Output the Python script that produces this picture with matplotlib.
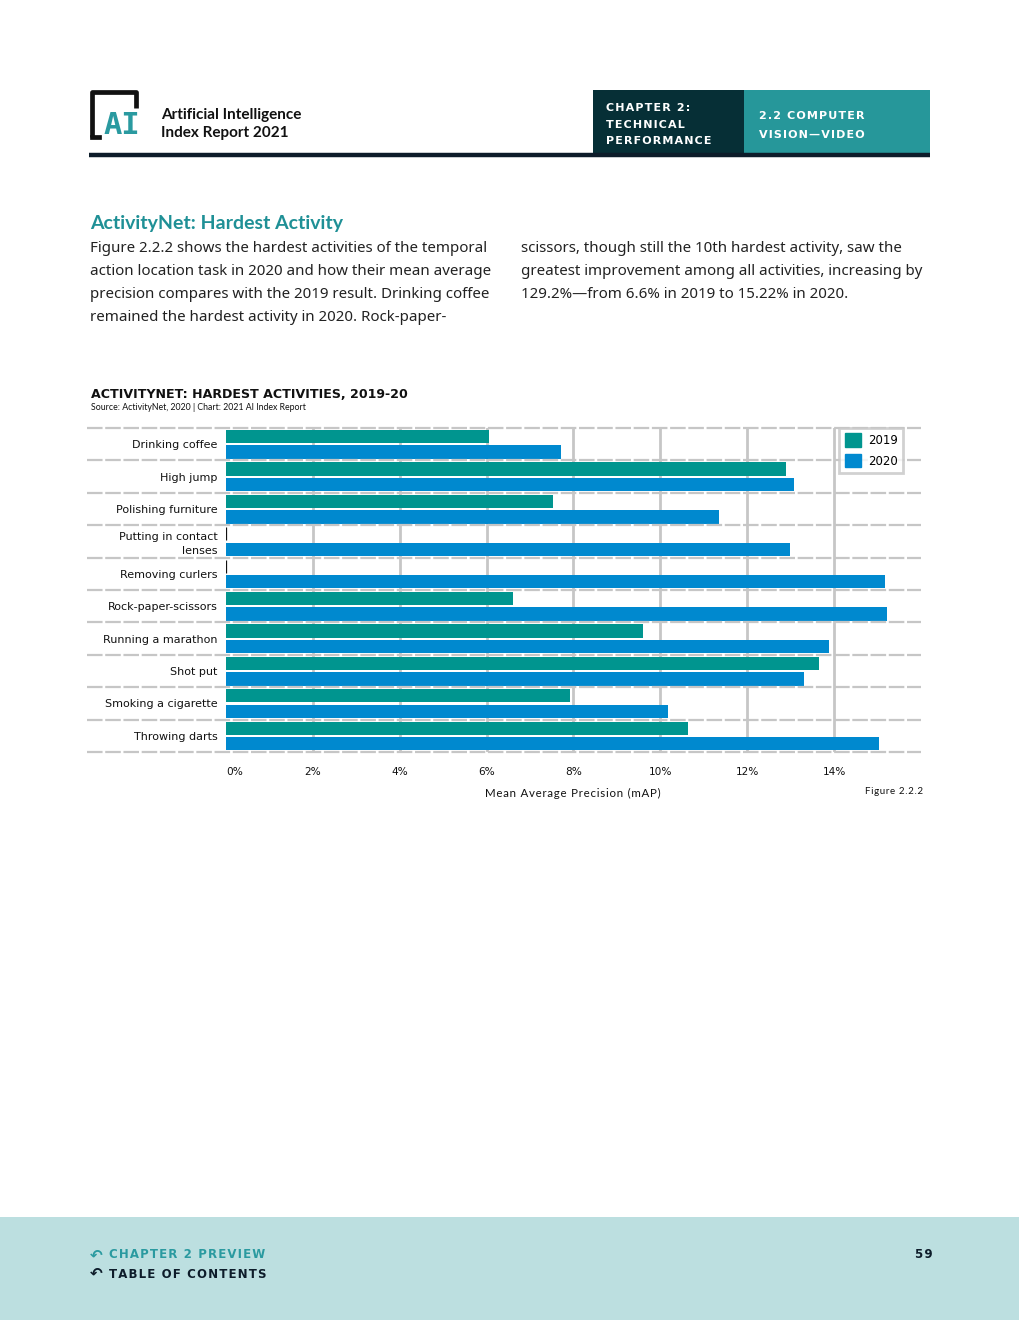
import numpy as np
import matplotlib.pyplot as plt
from matplotlib.patches import Rectangle, Patch
from matplotlib.transforms import blended_transform_factory

W, H = 1020, 1320

activities = [
    "Drinking coffee",
    "High jump",
    "Polishing furniture",
    "Putting in contact\nlenses",
    "Removing curlers",
    "Rock-paper-scissors",
    "Running a marathon",
    "Shot put",
    "Smoking a cigarette",
    "Throwing darts",
]
map_2019 = [6.05, 12.90, 7.52, 0.0, 0.0, 6.60, 9.59, 13.66, 7.91, 10.64]
map_2020 = [7.72, 13.08, 11.36, 12.99, 15.17, 15.22, 13.89, 13.31, 10.18, 15.03]
x_ticks = [0, 2, 4, 6, 8, 10, 12, 14]
x_labels = ["0%", "2%", "4%", "6%", "8%", "10%", "12%", "14%"]

TEAL = "#00958f"
BLUE = "#0089cf"
GRID = "#c6c6c6"
DARK = "#111111"

plt.rcParams["font.family"] = ["Lato", "DejaVu Sans"]


def px(x, y):
    return x / W, 1 - y / H


def spaced(s):
    return "\u200a".join(s)


fig = plt.figure(figsize=(W / 100, H / 100), dpi=100)
fig.patch.set_facecolor("white")

# ---------- page furniture ----------
hdr = fig.add_axes((0, 0, 1, 1))
hdr.set_xlim(0, W)
hdr.set_ylim(H, 0)
hdr.axis("off")

# logo
hdr.plot([92, 92, 136, 136], [137, 92, 92, 108], color=DARK, lw=3.4, solid_capstyle="butt")
hdr.plot([92, 99], [137, 137], color=DARK, lw=3.4)
hdr.text(122, 126, "AI", ha="center", va="center", fontsize=22, fontweight="bold",
         color="#2a9aa0", family=["DejaVu Sans Mono"])
hdr.text(161, 115, "Artificial Intelligence", ha="left", va="center", fontsize=11,
         fontweight="bold", color=DARK)
hdr.text(161, 133, "Index Report 2021", ha="left", va="center", fontsize=11,
         fontweight="bold", color=DARK)

hdr.add_patch(Rectangle((593, 90), 151, 64, color="#062f36", lw=0))
hdr.add_patch(Rectangle((744, 90), 186, 64, color="#26979a", lw=0))
for i, t in enumerate(["CHAPTER 2:", "TECHNICAL", "PERFORMANCE"]):
    hdr.text(606, 108 + i * 16.5, spaced(t), ha="left", va="center", fontsize=8,
             fontweight="bold", color="white", family=["DejaVu Sans"])
for i, t in enumerate(["2.2 COMPUTER", "VISION\u2014VIDEO"]):
    hdr.text(759, 116 + i * 19, spaced(t), ha="left", va="center", fontsize=8,
             fontweight="bold", color="white", family=["DejaVu Sans"])
hdr.plot([89, 930], [155, 155], color="#0d1c2a", lw=3.2, solid_capstyle="butt")

# intro text
hdr.text(90, 223, "ActivityNet: Hardest Activity", ha="left", va="center", fontsize=14,
         fontweight="bold", color="#1f9096")
left_col = [
    "Figure 2.2.2 shows the hardest activities of the temporal",
    "action location task in 2020 and how their mean average",
    "precision compares with the 2019 result. Drinking coffee",
    "remained the hardest activity in 2020. Rock-paper-",
]
right_col = [
    "scissors, though still the 10th hardest activity, saw the",
    "greatest improvement among all activities, increasing by",
    "129.2%\u2014from 6.6% in 2019 to 15.22% in 2020.",
]
for i, t in enumerate(left_col):
    hdr.text(90, 248 + i * 23.3, t, ha="left", va="center", fontsize=10.85,
             color="#222222", family=["Noto Sans", "DejaVu Sans"])
for i, t in enumerate(right_col):
    hdr.text(521, 248 + i * 23.3, t, ha="left", va="center", fontsize=10.85,
             color="#222222", family=["Noto Sans", "DejaVu Sans"])

hdr.text(91, 394, "ACTIVITYNET: HARDEST ACTIVITIES, 2019-20", ha="left", va="center",
         fontsize=9.1, fontweight="bold", color=DARK, family=["DejaVu Sans"])
hdr.text(91, 408, "Source: ActivityNet, 2020 | Chart: 2021 AI Index Report", ha="left",
         va="center", fontsize=6.3, color=DARK)
hdr.text(573, 793, spaced("Mean Average Precision (mAP)"), ha="center", va="center",
         fontsize=8.3, color=DARK)
hdr.text(923, 791, spaced("Figure 2.2.2"), ha="right", va="center", fontsize=7, color=DARK)

# footer
hdr.add_patch(Rectangle((0, 1217), W, H - 1217, color="#bcdfe0", lw=0))
hdr.text(90, 1255, "\u21b6", ha="left", va="center", fontsize=11, color="#2a9aa0",
         fontweight="bold", family=["DejaVu Sans"])
hdr.text(90, 1273, "\u21b6", ha="left", va="center", fontsize=11, color="#0d1c2a",
         fontweight="bold", family=["DejaVu Sans"])
hdr.text(109, 1255, spaced("CHAPTER 2 PREVIEW"), ha="left", va="center", fontsize=8.5,
         fontweight="bold", color="#2a9aa0", family=["DejaVu Sans"])
hdr.text(109, 1275, spaced("TABLE OF CONTENTS"), ha="left", va="center", fontsize=8.5,
         fontweight="bold", color="#0d1c2a", family=["DejaVu Sans"])
hdr.text(933, 1255, spaced("59"), ha="right", va="center", fontsize=8.5,
         fontweight="bold", color="#0d1c2a", family=["DejaVu Sans"])

# ---------- chart ----------
l, b = px(226, 752)
ax = fig.add_axes((l, b, 695 / W, 324 / H))
y = np.arange(len(activities))
h = 0.41
edges = [DARK if v == 0 else "none" for v in map_2019]
ax.barh(y - 0.235, map_2019, height=h, color=TEAL, edgecolor=edges, lw=0.9, zorder=3,
        label="2019")
ax.barh(y + 0.245, map_2020, height=h, color=BLUE, lw=0, zorder=3, label="2020")

ax.set_xlim(0, 16)
ax.set_ylim(len(activities) - 0.5, -0.5)
for s in ax.spines.values():
    s.set_visible(False)

for xv in x_ticks[1:]:
    ax.axvline(xv, color=GRID, lw=2, zorder=1)

tr = blended_transform_factory(ax.transAxes, ax.transData)
for yb in np.arange(-0.5, len(activities), 1.0):
    ax.plot([-0.2, 1.0], [yb, yb], transform=tr, color=GRID, lw=1.6,
            linestyle=(0, (7, 1.2)), clip_on=False, zorder=4)

ax.set_yticks(y)
ax.set_yticklabels(activities, fontsize=8, color=DARK, linespacing=1.4,
                   family=["DejaVu Sans"])
ax.set_xticks(x_ticks)
ax.set_xticklabels(x_labels, fontsize=7.6, color=DARK, family=["DejaVu Sans"])
ax.xaxis.get_ticklabels()[0].set_horizontalalignment("left")
ax.tick_params(axis="both", length=0)
ax.tick_params(axis="y", pad=6)
ax.tick_params(axis="x", pad=11)

handles = [Patch(color=TEAL, label="2019"), Patch(color=BLUE, label="2020")]
leg = ax.legend(handles=handles, loc="upper right", bbox_to_anchor=(0.974, 1.0),
                borderaxespad=0, fancybox=False, frameon=True,
                handlelength=1.35, handleheight=1.35, handletextpad=0.6,
                borderpad=0.45, labelspacing=0.6,
                prop={"family": ["DejaVu Sans"], "size": 8.5})
leg.get_frame().set_edgecolor(GRID)
leg.get_frame().set_linewidth(2)
leg.set_zorder(6)

fig.savefig("out.png", dpi=100)
